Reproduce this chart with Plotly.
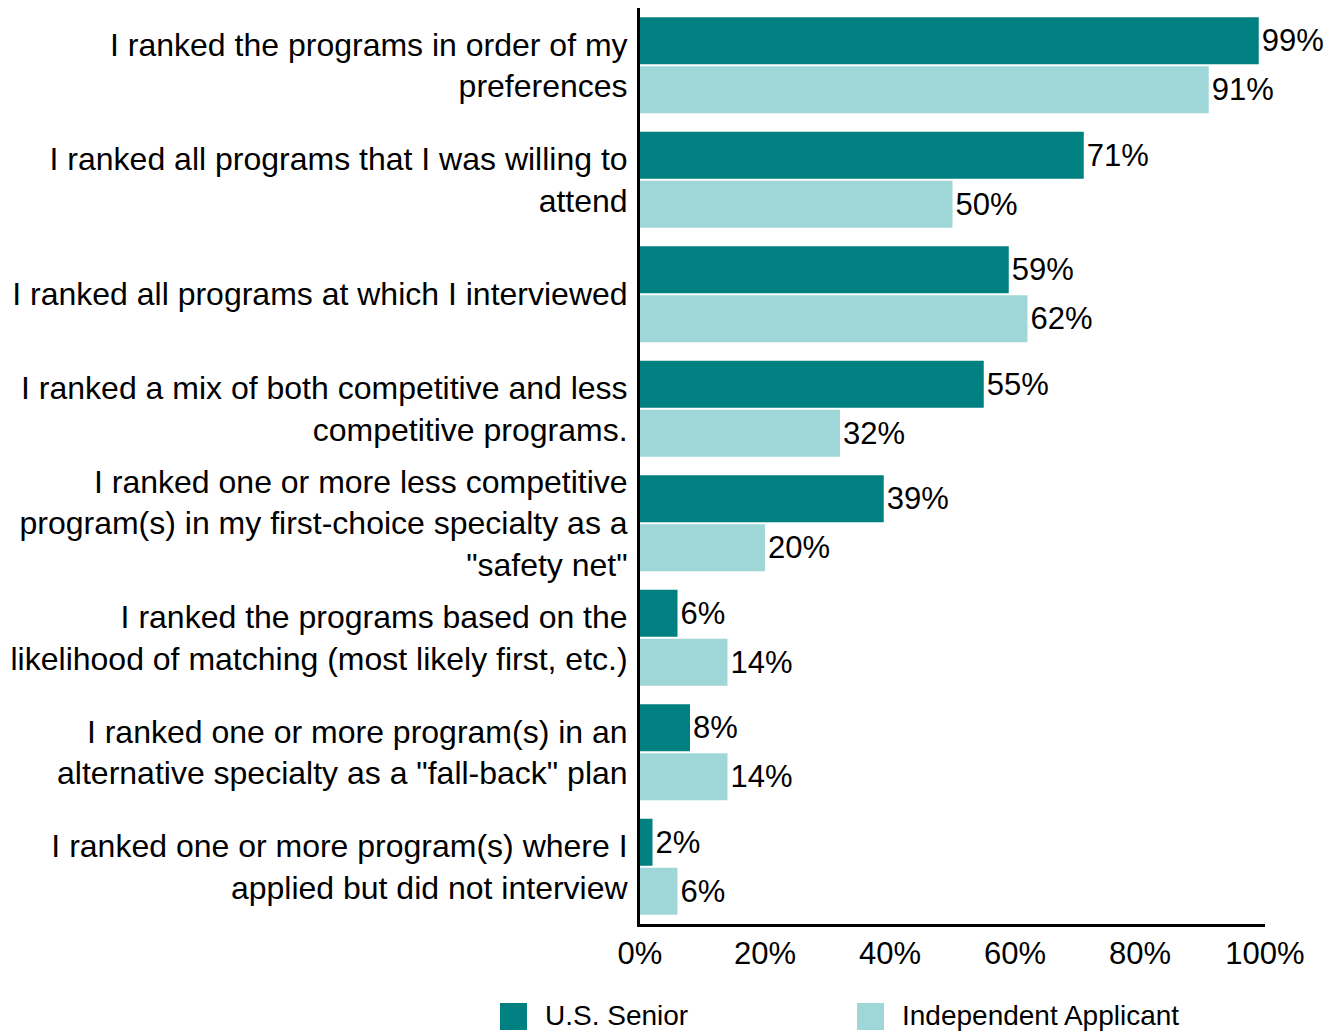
import plotly.graph_objects as go

categories = [
    "I ranked the programs in order of my<br>preferences",
    "I ranked all programs that I was willing to<br>attend",
    "I ranked all programs at which I interviewed",
    "I ranked a mix of both competitive and less<br>competitive programs.",
    "I ranked one or more less competitive<br>program(s) in my first-choice specialty as a<br>\"safety net\"",
    "I ranked the programs based on the<br>likelihood of matching (most likely first, etc.)",
    "I ranked one or more program(s) in an<br>alternative specialty as a \"fall-back\" plan",
    "I ranked one or more program(s) where I<br>applied but did not interview",
]
us_senior = [99, 71, 59, 55, 39, 6, 8, 2]
independent = [91, 50, 62, 32, 20, 14, 14, 6]

series_names = ["U.S. Senior", "Independent Applicant"]
series_colors = ["#008080", "#9FD7D9"]

FONT = "Liberation Sans, Arial, sans-serif"

fig = go.Figure()
for name, vals, color in zip(series_names, [us_senior, independent], series_colors):
    fig.add_trace(go.Bar(
        y=categories, x=vals, name=name, orientation="h",
        marker=dict(color=color, line=dict(width=0)),
        text=[f"{v}%" for v in vals], textposition="outside",
        textfont=dict(size=31, color="black", family=FONT),
        cliponaxis=False, showlegend=False,
    ))

# page body has an 8px margin, so the figure is shrunk by that much
W, H = 1335, 1026
L, R, T, B = 632, 78, 0, 110
pw, ph = W - L - R, H - T - B

def px_x(p):
    return (p - L) / pw

def px_y(p):
    return (H - B - p) / ph

# hand-made legend below the plot (big square swatches), positions in figure px
legend_x = [492, 849]
for name, color, lx in zip(series_names, series_colors, legend_x):
    fig.add_shape(type="rect", xref="paper", yref="paper",
                  x0=px_x(lx), x1=px_x(lx + 27), y0=px_y(1022), y1=px_y(995),
                  fillcolor=color, line=dict(width=0))
    fig.add_annotation(xref="paper", yref="paper", x=px_x(lx + 43), y=px_y(1008),
                       text=name, showarrow=False, xanchor="left", yanchor="middle",
                       font=dict(size=28, color="black", family=FONT))

fig.update_layout(
    width=W, height=H,
    margin=dict(l=L, r=R, t=T, b=B, pad=0),
    plot_bgcolor="white", paper_bgcolor="white",
    barmode="group", bargap=0.144, bargroupgap=0.04,
    font=dict(family=FONT, size=31, color="black"),
    showlegend=False,
)
fig.update_xaxes(range=[0, 100], dtick=20, ticksuffix="%", showgrid=False,
                 zeroline=False, showline=True, linewidth=3, linecolor="black",
                 ticks="", ticklabelstandoff=0, tickfont=dict(size=31))
fig.update_yaxes(autorange="reversed", showgrid=False, zeroline=False,
                 showline=True, linewidth=3, linecolor="black", ticks="",
                 ticklabelstandoff=3, tickfont=dict(size=32))

fig.write_html("out.html")
